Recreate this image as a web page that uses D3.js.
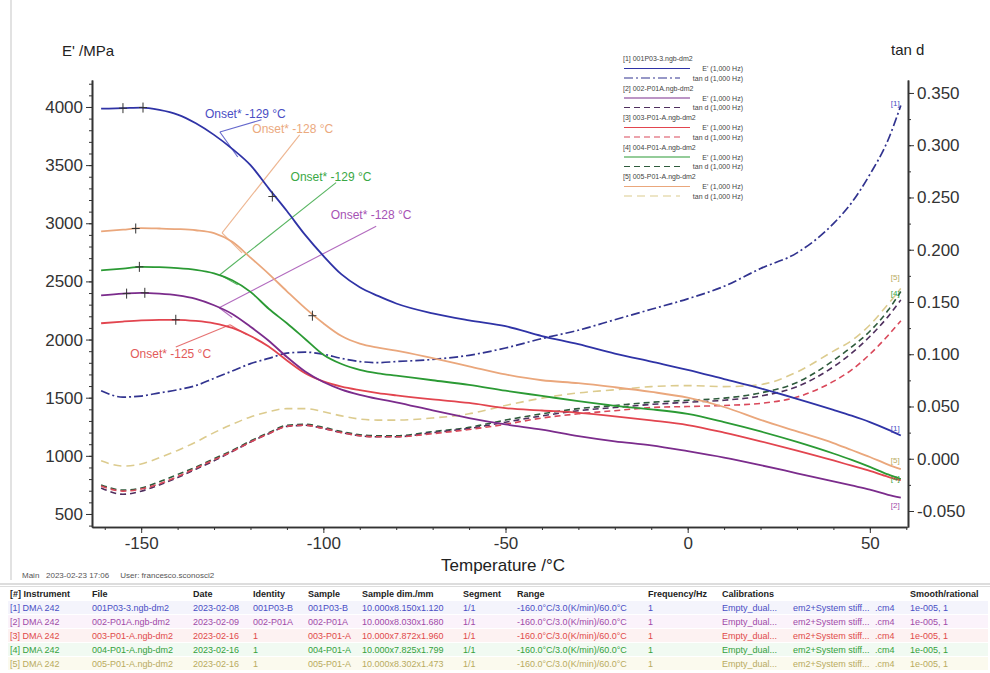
<!DOCTYPE html>
<html>
<head>
<meta charset="utf-8">
<script src="https://cdn.jsdelivr.net/npm/d3@7"></script>
<style>
  body { margin: 0; background: #fff; }
  svg { font-family: "Liberation Sans", Arial, sans-serif; }
  .axis path, .axis line { stroke: #333; }
  .axis text { fill: #333; font-size: 17px; }
</style>
</head>
<body>
<div id="chart"></div>
<script>
var svgWidth = 990;
var svgHeight = 673;

// plot frame (pixels in the page)
var frame = { left: 92, right: 908, top: 80, bottom: 527 };

// ---------------- data ----------------
var temps = [-161, -155, -150, -145, -140, -135, -130, -125, -120, -115, -110, -105, -100, -95, -90, -85, -80,
             -70, -60, -50, -40, -30, -20, -10, 0, 10, 20, 30, 40, 45, 50, 55, 58.5];

// E' /MPa per sample
var eBlue   = [3985, 3990, 3995, 3975, 3935, 3860, 3760, 3640, 3500, 3300, 3105, 2900, 2720, 2560, 2450, 2375, 2310,
               2225, 2165, 2115, 2030, 1960, 1880, 1810, 1740, 1660, 1580, 1490, 1395, 1345, 1290, 1225, 1175];
var ePurple = [2380, 2395, 2402, 2395, 2380, 2350, 2295, 2220, 2110, 1990, 1850, 1725, 1635, 1570, 1525, 1490, 1460,
               1390, 1325, 1270, 1225, 1170, 1125, 1090, 1040, 985, 920, 850, 780, 745, 710, 665, 640];
var eRed    = [2140, 2155, 2165, 2170, 2170, 2160, 2140, 2100, 2030, 1940, 1820, 1710, 1640, 1595, 1565, 1540, 1520,
               1485, 1455, 1410, 1390, 1370, 1340, 1305, 1265, 1200, 1125, 1045, 960, 915, 870, 820, 790];
var eGreen  = [2595, 2610, 2625, 2622, 2615, 2600, 2570, 2510, 2410, 2265, 2140, 2005, 1870, 1790, 1740, 1710, 1690,
               1650, 1610, 1560, 1515, 1470, 1430, 1400, 1360, 1290, 1210, 1120, 1020, 965, 905, 840, 800];
var eOrange = [2930, 2945, 2958, 2955, 2950, 2940, 2915, 2840, 2705, 2565, 2415, 2270, 2140, 2030, 1965, 1930, 1905,
               1840, 1770, 1700, 1650, 1625, 1590, 1550, 1500, 1420, 1310, 1210, 1110, 1050, 990, 925, 885];

// tan d per sample
var dBlue   = [0.065, 0.059, 0.060, 0.063, 0.066, 0.070, 0.077, 0.084, 0.091, 0.096, 0.101, 0.102, 0.100, 0.096, 0.093, 0.092, 0.093,
               0.095, 0.099, 0.106, 0.115, 0.123, 0.133, 0.143, 0.153, 0.165, 0.182, 0.197, 0.225, 0.245, 0.272, 0.305, 0.338];
var dPurple = [-0.028, -0.034, -0.031, -0.025, -0.018, -0.010, -0.002, 0.007, 0.016, 0.024, 0.031, 0.032, 0.029, 0.025, 0.022, 0.021, 0.021,
               0.025, 0.029, 0.035, 0.041, 0.046, 0.049, 0.052, 0.054, 0.056, 0.060, 0.069, 0.088, 0.101, 0.117, 0.136, 0.152];
var dRed    = [-0.026, -0.031, -0.029, -0.024, -0.017, -0.009, -0.001, 0.007, 0.016, 0.024, 0.031, 0.032, 0.029, 0.025, 0.022, 0.021, 0.021,
               0.024, 0.028, 0.033, 0.039, 0.043, 0.046, 0.049, 0.050, 0.051, 0.053, 0.059, 0.074, 0.085, 0.100, 0.118, 0.132];
var dGreen  = [-0.025, -0.030, -0.028, -0.022, -0.015, -0.008, 0.000, 0.008, 0.017, 0.025, 0.032, 0.033, 0.030, 0.026, 0.023, 0.022, 0.022,
               0.026, 0.030, 0.037, 0.043, 0.048, 0.051, 0.054, 0.056, 0.058, 0.063, 0.073, 0.094, 0.107, 0.122, 0.142, 0.160];
var dKhaki  = [-0.002, -0.007, -0.005, 0.001, 0.008, 0.016, 0.025, 0.033, 0.040, 0.045, 0.048, 0.048, 0.045, 0.041, 0.038, 0.037, 0.037,
               0.039, 0.043, 0.051, 0.058, 0.063, 0.066, 0.069, 0.070, 0.069, 0.071, 0.083, 0.103, 0.113, 0.128, 0.148, 0.163];

// tick values
var xTicks = [-150, -100, -50, 0, 50];
var leftTicks = [500, 1000, 1500, 2000, 2500, 3000, 3500, 4000];
var rightTicks = [-0.05, 0, 0.05, 0.1, 0.15, 0.2, 0.25, 0.3, 0.35];

// "+" marks on the E' curves [T, E']
var crossBlue = [[-155, 3990], [-149.5, 3995], [-114, 3230]];
var crossOrange = [[-151.5, 2955], [-103, 2205]];
var crossGreen = [[-150.5, 2625]];
var crossPurple = [[-154, 2395], [-149, 2402]];
var crossRed = [[-140.5, 2170]];

// onset annotations: text, label anchor [T,E], leader end [T,E], vertex [T,E], tangent end [T,E]
var onsetText = ["Onset* -129 °C", "Onset* -128 °C", "Onset* -129 °C", "Onset* -128 °C", "Onset* -125 °C"];
var onsetLabelAt = [[-132.5, 3905], [-119.5, 3775], [-109, 3365], [-98, 3040], [-153, 1845]];
var onsetLeader = [[-117, 3890], [-106.5, 3760], [-96.5, 3350], [-85.5, 2975], [-140.5, 1935]];
var onsetVertex = [[-128.4, 3785], [-127.8, 2918], [-128.4, 2557], [-128.6, 2273], [-125.6, 2127]];
var onsetTangent = [[-123.5, 3570], [-122.3, 2745], [-123.5, 2470], [-125, 2190], [-121, 2040]];

// legend / table
var sampleIds = ["[1]", "[2]", "[3]", "[4]", "[5]"];
var fileNames = ["001P03-3.ngb-dm2", "002-P01A.ngb-dm2", "003-P01-A.ngb-dm2", "004-P01-A.ngb-dm2", "005-P01-A.ngb-dm2"];
var dates = ["2023-02-08", "2023-02-09", "2023-02-16", "2023-02-16", "2023-02-16"];
var identities = ["001P03-B", "002-P01A", "1", "1", "1"];
var samples = ["001P03-B", "002-P01A", "003-P01-A", "004-P01-A", "005-P01-A"];
var dims = ["10.000x8.150x1.120", "10.000x8.030x1.680", "10.000x7.872x1.960", "10.000x7.825x1.799", "10.000x8.302x1.473"];
var tableHeaders = ["[#] Instrument", "File", "Date", "Identity", "Sample", "Sample dim./mm", "Segment", "Range",
                    "Frequency/Hz", "Calibrations", "Smooth/rational"];

// colours: E' curve, tan d curve, table/text
var eColors = ["#2f33a6", "#7b2c8c", "#e2454f", "#2b9a34", "#eaa77c"];
var dColors = ["#31338f", "#4f2f5e", "#d9485a", "#2e5b3c", "#dccb8e"];
var textColors = ["#4a4ec4", "#a04aa8", "#e04a4a", "#34a03c", "#b9ab5e"];
var onsetColors = ["#4a4ec4", "#eba97e", "#3aa845", "#a652b4", "#e25a5a"];

var eSeries = [eBlue, ePurple, eRed, eGreen, eOrange];
var dSeries = [dBlue, dPurple, dRed, dGreen, dKhaki];
var crosses = [crossBlue, crossPurple, crossRed, crossGreen, crossOrange];

// ---------------- svg ----------------
var svg = d3.select("#chart")
    .append("svg")
    .attr("width", svgWidth)
    .attr("height", svgHeight);

svg.append("rect").attr("width", svgWidth).attr("height", svgHeight).attr("fill", "#fff");
// faint frame edge of the screenshot
svg.append("line").attr("x1", 11).attr("x2", 11).attr("y1", 0).attr("y2", 580)
    .attr("stroke", "#e2e2e2").attr("stroke-width", 2);

// scales
var xScale = d3.scaleLinear().domain([-163.5, 60.2]).range([frame.left, frame.right - 1]);
var yLeft = d3.scaleLinear().domain([388, 4232]).range([frame.bottom, frame.top]);
var yRight = d3.scaleLinear().domain([-0.0653, 0.3624]).range([frame.bottom, frame.top]);

// minor ticks
var xMinor = d3.range(-160, 61, 10);
var leftMinor = d3.range(400, 4201, 100);
var rightMinor = d3.range(-0.05, 0.3601, 0.025);

function minorAxis(axisFn, scale, vals) {
    return axisFn(scale).tickValues(vals).tickSize(3).tickSizeOuter(0).tickFormat("");
}

svg.append("g").attr("class", "axis")
    .attr("transform", `translate(0,${frame.bottom})`)
    .call(minorAxis(d3.axisBottom, xScale, xMinor));
svg.append("g").attr("class", "axis")
    .attr("transform", `translate(${frame.left},0)`)
    .call(minorAxis(d3.axisLeft, yLeft, leftMinor));
svg.append("g").attr("class", "axis")
    .attr("transform", `translate(${frame.right},0)`)
    .call(minorAxis(d3.axisRight, yRight, rightMinor));

var bottomAxis = d3.axisBottom(xScale).tickValues(xTicks).tickSize(6).tickSizeOuter(0).tickPadding(4)
    .tickFormat(d3.format("d"));
var leftAxis = d3.axisLeft(yLeft).tickValues(leftTicks).tickSize(6).tickSizeOuter(0).tickPadding(3)
    .tickFormat(d3.format("d"));
var rightAxis = d3.axisRight(yRight).tickValues(rightTicks).tickSize(6).tickSizeOuter(0).tickPadding(3)
    .tickFormat(d3.format(".3f"));

var xAxisG = svg.append("g").attr("class", "axis")
    .attr("transform", `translate(0,${frame.bottom})`).call(bottomAxis);
var yAxisG = svg.append("g").attr("class", "axis")
    .attr("transform", `translate(${frame.left},0)`).call(leftAxis);
var y2AxisG = svg.append("g").attr("class", "axis")
    .attr("transform", `translate(${frame.right},0)`).call(rightAxis);

svg.selectAll(".axis path.domain").attr("stroke-width", 1.6);
svg.selectAll(".axis .tick text").text(function() { return d3.select(this).text().replace("\u2212", "-"); });

// axis titles
svg.append("text").attr("x", 62).attr("y", 56).attr("font-size", 15).attr("fill", "#222").text("E' /MPa");
svg.append("text").attr("x", 891).attr("y", 55).attr("font-size", 15).attr("fill", "#222").text("tan d");
svg.append("text").attr("x", 503).attr("y", 571).attr("font-size", 17).attr("fill", "#222")
    .attr("text-anchor", "middle").text("Temperature /°C");

// clip
svg.append("clipPath").attr("id", "plotClip").append("rect")
    .attr("x", frame.left + 1).attr("y", frame.top).attr("width", frame.right - frame.left - 2)
    .attr("height", frame.bottom - frame.top - 1);

var plot = svg.append("g").attr("clip-path", "url(#plotClip)");

var lineE = d3.line().x((d, i) => xScale(temps[i])).y(d => yLeft(d)).curve(d3.curveMonotoneX);
var lineD = d3.line().x((d, i) => xScale(temps[i])).y(d => yRight(d)).curve(d3.curveMonotoneX);

// tan d curves (dashed) first
var dashes = ["9,3,2,3", "6,4", "6,4", "6,4", "8,5"];
var dOrder = [4, 3, 1, 2, 0];
dOrder.forEach(function(k) {
    plot.append("path")
        .datum(dSeries[k])
        .attr("d", lineD)
        .attr("fill", "none")
        .attr("stroke", dColors[k])
        .attr("stroke-width", k === 0 ? 1.7 : 1.6)
        .attr("stroke-dasharray", dashes[k]);
});

// onset construction lines
onsetText.forEach(function(t, k) {
    var c = onsetColors[k];
    var v = onsetVertex[k];
    plot.append("line")
        .attr("x1", xScale(v[0])).attr("y1", yLeft(v[1]))
        .attr("x2", xScale(onsetLeader[k][0])).attr("y2", yLeft(onsetLeader[k][1]))
        .attr("stroke", c).attr("stroke-width", 1.1).attr("opacity", 0.85);
    plot.append("line")
        .attr("x1", xScale(v[0])).attr("y1", yLeft(v[1]))
        .attr("x2", xScale(onsetTangent[k][0])).attr("y2", yLeft(onsetTangent[k][1]))
        .attr("stroke", c).attr("stroke-width", 1.1).attr("opacity", 0.85);
});

// E' curves
var eOrder = [4, 3, 2, 1, 0];
eOrder.forEach(function(k) {
    plot.append("path")
        .datum(eSeries[k])
        .attr("d", lineE)
        .attr("fill", "none")
        .attr("stroke", eColors[k])
        .attr("stroke-width", 1.8);
});

// "+" marks
crosses.forEach(function(list, k) {
    list.forEach(function(p) {
        var cx = xScale(p[0]), cy = yLeft(p[1]);
        plot.append("path")
            .attr("d", `M${cx - 4},${cy}H${cx + 4}M${cx},${cy - 5}V${cy + 5}`)
            .attr("stroke", "#333").attr("stroke-width", 1);
    });
});

// onset labels
onsetText.forEach(function(t, k) {
    svg.append("text")
        .attr("x", xScale(onsetLabelAt[k][0]))
        .attr("y", yLeft(onsetLabelAt[k][1]))
        .attr("font-size", 12)
        .attr("fill", onsetColors[k])
        .text(t);
});

// end-of-curve sample tags
var lastIdx = temps.length - 1;
var eTagShift = [-4, 10, -4, 2, -6];
[0, 1, 2, 3, 4].forEach(function(k) {
    if (k === 2) return;
    svg.append("text")
        .attr("x", xScale(temps[lastIdx]) - 10)
        .attr("y", yLeft(eSeries[k][lastIdx]) + eTagShift[k])
        .attr("font-size", 8).attr("fill", textColors[k])
        .text(sampleIds[k]);
});
var dTagShift = [0, 0, 0, 4, -8];
[0, 4, 3].forEach(function(k) {
    svg.append("text")
        .attr("x", xScale(temps[lastIdx]) - 10)
        .attr("y", yRight(dSeries[k][lastIdx]) + dTagShift[k])
        .attr("font-size", 8).attr("fill", textColors[k])
        .text(sampleIds[k]);
});

// legend
var legend = svg.append("g").attr("font-size", 7).attr("fill", "#444");
sampleIds.forEach(function(id, k) {
    var y0 = 61 + k * 29.5;
    legend.append("text").attr("x", 623).attr("y", y0).text(id + " " + fileNames[k]);
    legend.append("line").attr("x1", 624).attr("x2", 690).attr("y1", y0 + 7.5).attr("y2", y0 + 7.5)
        .attr("stroke", eColors[k]).attr("stroke-width", 1.2);
    legend.append("text").attr("x", 743).attr("y", y0 + 10).attr("text-anchor", "end").text("E' (1,000 Hz)");
    legend.append("line").attr("x1", 624).attr("x2", 680).attr("y1", y0 + 17).attr("y2", y0 + 17)
        .attr("stroke", dColors[k]).attr("stroke-width", 1.2).attr("stroke-dasharray", dashes[k]);
    legend.append("text").attr("x", 743).attr("y", y0 + 19.5).attr("text-anchor", "end").text("tan d (1,000 Hz)");
});

// footer
svg.append("text").attr("x", 22).attr("y", 578).attr("font-size", 8).attr("fill", "#555")
    .attr("xml:space", "preserve")
    .text("Main   2023-02-23 17:06     User: francesco.sconosci2");
svg.append("line").attr("x1", 0).attr("x2", svgWidth).attr("y1", 584).attr("y2", 584).attr("stroke", "#bbb");
svg.append("line").attr("x1", 0).attr("x2", svgWidth).attr("y1", 586.5).attr("y2", 586.5).attr("stroke", "#ddd");

var colX = [10, 92, 193, 253, 308, 362, 463, 517, 648, 722, 910];
var headerY = 597;
var rowStep = 14;
var table = svg.append("g").attr("font-size", 9);
tableHeaders.forEach(function(h, c) {
    table.append("text").attr("x", colX[c]).attr("y", headerY).attr("font-weight", "bold")
        .attr("fill", "#222").text(h);
});
var rowBg = ["#f4f4fc", "#fbf3fb", "#fdf2f2", "#f1faf2", "#fbfaee"];
sampleIds.forEach(function(id, k) {
    var y = headerY + rowStep * (k + 1);
    table.append("rect").attr("x", 8).attr("y", y - 10).attr("width", svgWidth - 10).attr("height", rowStep - 1)
        .attr("fill", rowBg[k]);
    var cells = [id + " DMA 242", fileNames[k], dates[k], identities[k], samples[k], dims[k], "1/1",
                 "-160.0°C/3.0(K/min)/60.0°C", "1", "Empty_dual...", "1e-005, 1"];
    cells.forEach(function(v, c) {
        table.append("text").attr("x", colX[c]).attr("y", y).attr("fill", textColors[k]).text(v);
    });
    table.append("text").attr("x", 793).attr("y", y).attr("fill", textColors[k]).text("em2+System stiff...");
    table.append("text").attr("x", 875).attr("y", y).attr("fill", textColors[k]).text(".cm4");
});
</script>
</body>
</html>
